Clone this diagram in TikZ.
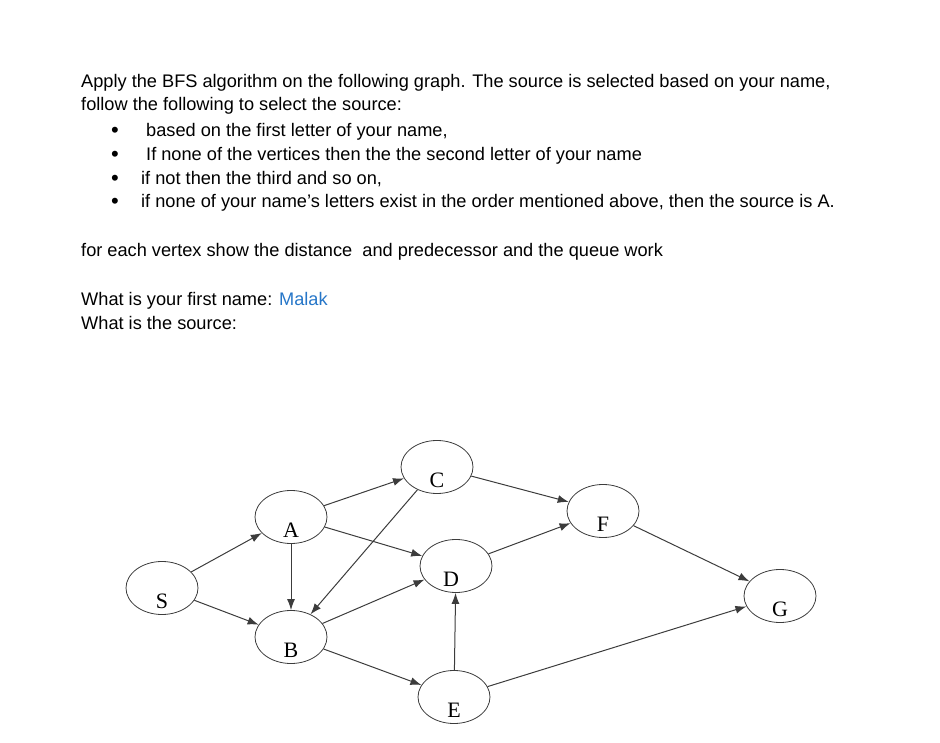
\documentclass[tikz,border=0pt]{standalone}
\usepackage{fontspec}
\setmainfont{Liberation Sans}
\newfontfamily\graphfont{Liberation Serif}
\usetikzlibrary{shapes.geometric, arrows.meta}
\definecolor{namecol}{RGB}{38,118,200}
\definecolor{edgecol}{RGB}{60,60,60}
\tikzstyle{txt} = [
  anchor=base west,
  inner sep=0pt,
  font=\fontsize{18.2}{22}\selectfont
]
\tikzstyle{dot} = [
  anchor=base west,
  inner sep=0pt,
  font=\fontsize{22}{22}\selectfont
]
\tikzstyle{vertex} = [
  ellipse,
  minimum width=72pt,
  minimum height=53pt,
  inner sep=0pt,
  draw=edgecol,
  line width=0.8pt
]
\tikzstyle{vlabel} = [
  yshift=-13pt,
  inner sep=0pt,
  font=\graphfont\fontsize{22}{22}\selectfont
]
\tikzstyle{arrow} = [->, >={Latex[length=11pt,width=8pt]}, draw=edgecol, line width=1pt]

\begin{document}
\begin{tikzpicture}[x=1pt, y=-1pt]
    \useasboundingbox (0,0) rectangle (940,743);

    % question text
    \node (line1) [txt] at (81,88) {Apply the BFS algorithm on the following graph. The source is selected based on your name,};
    \node (line2) [txt] at (81,111) {follow the following to select the source:};
    \node (dot1) [dot] at (111,138) {\textbullet};
    \node (item1) [txt] at (146,137) {based on the first letter of your name,};
    \node (dot2) [dot] at (111,162) {\textbullet};
    \node (item2) [txt] at (146,161) {If none of the vertices then the the second letter of your name};
    \node (dot3) [dot] at (111,186) {\textbullet};
    \node (item3) [txt] at (141,185) {if not then the third and so on,};
    \node (dot4) [dot] at (111,209) {\textbullet};
    \node (item4) [txt] at (141,208) {if none of your name's letters exist in the order mentioned above, then the source is A.};
    \node (line3) [txt] at (81,257) {for each vertex show the distance\ \ and predecessor and the queue work};
    \node (line4) [txt] at (81,306) {What is your first name: \textcolor{namecol}{Malak}};
    \node (line5) [txt] at (81,330) {What is the source:};

    % graph
    \node (S) [vertex, label={[vlabel]center:S}] at (162,588) {};
    \node (A) [vertex, label={[vlabel]center:A}] at (291,517) {};
    \node (B) [vertex, label={[vlabel]center:B}] at (291,637) {};
    \node (C) [vertex, label={[vlabel]center:C}] at (437,467) {};
    \node (D) [vertex, label={[vlabel, xshift=-5pt]center:D}] at (456,566) {};
    \node (E) [vertex, label={[vlabel]center:E}] at (454,697) {};
    \node (F) [vertex, label={[vlabel]center:F}] at (603,511) {};
    \node (G) [vertex, label={[vlabel]center:G}] at (780,596) {};

    \draw [arrow] (S) -- (A);
    \draw [arrow] (S) -- (B);
    \draw [arrow] (A) -- (B);
    \draw [arrow] (A) -- (C);
    \draw [arrow] (A) -- (D);
    \draw [arrow] (C) -- (B);
    \draw [arrow] (C) -- (F);
    \draw [arrow] (B) -- (D);
    \draw [arrow] (B) -- (E);
    \draw [arrow] (D) -- (F);
    \draw [arrow] (E) -- (D);
    \draw [arrow] (E) -- (G);
    \draw [arrow] (F) -- (G);
\end{tikzpicture}
\end{document}
